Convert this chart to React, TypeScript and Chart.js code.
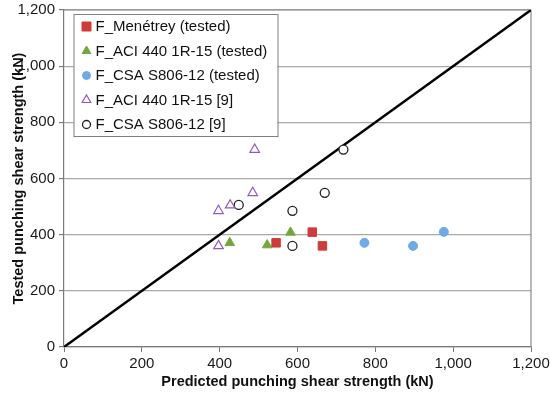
import React, { useEffect, useRef } from 'react';
import { Chart, registerables } from 'chart.js';

Chart.register(...registerables);

// ---- Data ----
const seriesLabels = [
  'F_Menétrey (tested)',
  'F_ACI 440 1R-15 (tested)',
  'F_CSA S806-12 (tested)',
  'F_ACI 440 1R-15 [9]',
  'F_CSA S806-12 [9]',
];
const menetreyTestedX = [545, 638, 664];
const menetreyTestedY = [371, 409, 360];
const aciTestedX = [426, 522, 582];
const aciTestedY = [371, 363, 408];
const csaTestedX = [772, 897, 976];
const csaTestedY = [371, 360, 410];
const aciRefX = [397, 397, 427, 485, 490];
const aciRefY = [360, 485, 505, 549, 703];
const csaRefX = [449, 587, 587, 670, 718];
const csaRefY = [506, 485, 360, 549, 703];
const diagonalX = [0, 1200];
const diagonalY = [0, 1200];
const axisMin = 0;
const axisMax = 1200;
const axisStep = 200;
const xTitle = 'Predicted punching shear strength (kN)';
const yTitle = 'Tested punching shear strength (kN)';

const pts = (xs: number[], ys: number[]) => xs.map((x, i) => ({ x, y: ys[i] }));
const fmt = (v: any) => Number(v).toLocaleString('en-US');

const FONT = 'Arial, "Liberation Sans", sans-serif';

const frameAndLegend = {
  id: 'frameAndLegend',
  beforeDatasetsDraw(chart: any) {
    const { ctx, chartArea } = chart;
    ctx.save();
    ctx.strokeStyle = '#8c8c8c';
    ctx.lineWidth = 1.2;
    ctx.beginPath();
    ctx.moveTo(chartArea.left, chartArea.top);
    ctx.lineTo(chartArea.right, chartArea.top);
    ctx.lineTo(chartArea.right, chartArea.bottom);
    ctx.stroke();
    ctx.restore();
  },
  afterDraw(chart: any) {
    const { ctx, chartArea } = chart;
    const ds = chart.data.datasets.filter((d: any) => !d.hideInLegend);
    const bx = chartArea.left + 9.5;
    const by = chartArea.top + 4;
    const bw = 204;
    const bh = 122;
    ctx.save();
    ctx.fillStyle = '#ffffff';
    ctx.fillRect(bx, by, bw, bh);
    ctx.strokeStyle = '#7f7f7f';
    ctx.lineWidth = 1;
    ctx.strokeRect(bx + 0.5, by + 0.5, bw, bh);
    ctx.font = `15px ${FONT}`;
    ctx.textBaseline = 'middle';
    ctx.textAlign = 'left';
    ds.forEach((d: any, i: number) => {
      const cy = by + 12.5 + i * 24.5;
      const cx = bx + 13;
      ctx.fillStyle = d.backgroundColor;
      ctx.strokeStyle = d.borderColor;
      ctx.lineWidth = d.borderWidth;
      ctx.beginPath();
      if (d.pointStyle === 'rect') {
        ctx.rect(cx - 4.5, cy - 4.5, 9, 9);
      } else if (d.pointStyle === 'triangle') {
        const r = 5;
        ctx.moveTo(cx, cy - r);
        ctx.lineTo(cx + r * 0.866, cy + r * 0.5);
        ctx.lineTo(cx - r * 0.866, cy + r * 0.5);
        ctx.closePath();
      } else {
        ctx.arc(cx, cy, 4, 0, Math.PI * 2);
      }
      ctx.fill();
      ctx.stroke();
      ctx.fillStyle = '#111111';
      ctx.fillText(d.label, bx + 22, cy + 0.5);
    });
    ctx.restore();
  },
};

export default function App() {
  const ref = useRef<HTMLCanvasElement>(null);
  useEffect(() => {
    if (!ref.current) return;
    const chart = new Chart(ref.current, {
      type: 'scatter',
      data: {
        datasets: [
          {
            label: seriesLabels[0],
            data: pts(menetreyTestedX, menetreyTestedY),
            pointStyle: 'rect',
            pointRadius: 6,
            backgroundColor: '#cf3b3b',
            borderColor: '#cf3b3b',
            borderWidth: 1,
          },
          {
            label: seriesLabels[1],
            data: pts(aciTestedX, aciTestedY),
            pointStyle: 'triangle',
            pointRadius: 5.5,
            backgroundColor: '#72a83b',
            borderColor: '#72a83b',
            borderWidth: 1,
          },
          {
            label: seriesLabels[2],
            data: pts(csaTestedX, csaTestedY),
            pointStyle: 'circle',
            pointRadius: 4.5,
            backgroundColor: '#6eaae6',
            borderColor: '#6eaae6',
            borderWidth: 1,
          },
          {
            label: seriesLabels[3],
            data: pts(aciRefX, aciRefY),
            pointStyle: 'triangle',
            pointRadius: 5.5,
            backgroundColor: 'rgba(255,255,255,0)',
            borderColor: '#9258c4',
            borderWidth: 1.2,
          },
          {
            label: seriesLabels[4],
            data: pts(csaRefX, csaRefY),
            pointStyle: 'circle',
            pointRadius: 4.5,
            backgroundColor: '#ffffff',
            borderColor: '#222222',
            borderWidth: 1.3,
          },
          {
            type: 'line',
            label: 'diagonal',
            hideInLegend: true,
            data: pts(diagonalX, diagonalY),
            borderColor: '#000000',
            borderWidth: 2.5,
            pointRadius: 0,
            fill: false,
          } as any,
        ],
      },
      options: {
        responsive: false,
        animation: false,
        events: [],
        layout: { padding: { top: 10, right: 19, left: 0, bottom: 0 } },
        plugins: {
          legend: { display: false },
          tooltip: { enabled: false },
        },
        scales: {
          x: {
            type: 'linear',
            min: axisMin,
            max: axisMax,
            ticks: {
              stepSize: axisStep,
              callback: fmt,
              font: { size: 15, family: FONT },
              color: '#1a1a1a',
              padding: 3,
              maxRotation: 0,
            },
            grid: {
              drawOnChartArea: false,
              tickLength: 5,
              tickColor: '#7a7a7a',
            },
            border: { color: '#7a7a7a', width: 1.2 },
            title: {
              display: true,
              text: xTitle,
              font: { size: 14.5, weight: 'bold', family: FONT },
              color: '#111111',
              padding: { top: 0, bottom: 5 },
            },
            afterFit: (s: any) => {
              s.height = 49;
              s.paddingRight = 0;
              s.paddingLeft = 0;
            },
          },
          y: {
            type: 'linear',
            min: axisMin,
            max: axisMax,
            ticks: {
              stepSize: axisStep,
              callback: fmt,
              font: { size: 15, family: FONT },
              color: '#1a1a1a',
              padding: 4,
            },
            grid: {
              drawOnChartArea: true,
              color: '#a8a8a8',
              lineWidth: 1.2,
              tickLength: 5,
              tickColor: '#7a7a7a',
            },
            border: { color: '#7a7a7a', width: 1.2 },
            title: {
              display: true,
              text: yTitle,
              font: { size: 14.5, weight: 'bold', family: FONT },
              color: '#111111',
              padding: { top: 10, bottom: 0 },
            },
            afterFit: (s: any) => {
              s.width = 64;
              s.paddingTop = 0;
              s.paddingBottom = 0;
            },
          },
        },
      },
      plugins: [frameAndLegend],
    });
    return () => chart.destroy();
  }, []);
  return (
    <div style={{ position: 'fixed', left: 0, top: 0, width: 550, height: 396, background: '#fff' }}>
      <canvas ref={ref} width={550} height={396} style={{ display: 'block' }} />
    </div>
  );
}
